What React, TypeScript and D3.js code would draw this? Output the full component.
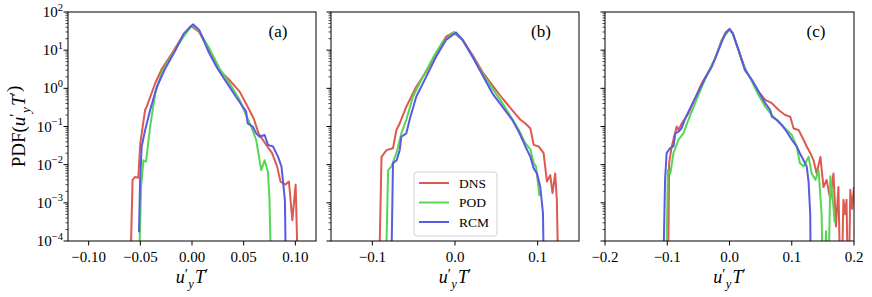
import React from 'react'
import * as d3 from 'd3'

const WIDTH = 872
const HEIGHT = 297
const TOP = 12
const BOTTOM = 241

const seriesNames = ['DNS', 'POD', 'RCM']
const colors = ['#dc5a50', '#55d655', '#5a5ae4']

// panel (a)
const dnsA = [[-0.0608, 1e-6], [-0.0575, 0.004], [-0.055, 0.0048], [-0.052, 0.0045], [-0.050, 0.037], [-0.0454, 0.27], [-0.0438, 0.33], [-0.0356, 1.36], [-0.029, 3.3], [-0.0193, 8.3], [-0.0095, 22.5], [-0.001, 43], [0.0069, 30], [0.0167, 10], [0.0265, 3.0], [0.0363, 1.65], [0.0461, 0.82], [0.0539, 0.33], [0.0598, 0.16], [0.0644, 0.066], [0.0709, 0.036], [0.0775, 0.02], [0.0824, 0.0089], [0.0856, 0.0036], [0.0905, 0.003], [0.0938, 0.0036], [0.0971, 0.00035], [0.1003, 0.003], [0.1036, 1e-6]]
const podA = [[-0.0525, 1e-6], [-0.0493, 0.0026], [-0.047, 0.013], [-0.0445, 0.012], [-0.0405, 0.1], [-0.0356, 0.74], [-0.029, 2.7], [-0.0193, 7.5], [-0.0095, 20], [0.0, 45], [0.0069, 32], [0.0167, 11.3], [0.0265, 3.35], [0.0363, 1.36], [0.0461, 0.5], [0.0523, 0.2], [0.0572, 0.1], [0.0621, 0.045], [0.0654, 0.013], [0.067, 0.0072], [0.0703, 0.013], [0.0735, 0.0065], [0.075, 0.0012], [0.0775, 1e-6]]
const rcmA = [[-0.0513, 0.00017], [-0.0503, 0.0033], [-0.0487, 0.03], [-0.0454, 0.08], [-0.0405, 0.27], [-0.034, 1.1], [-0.0258, 3.35], [-0.016, 10], [-0.0078, 27.5], [0.001, 47.5], [0.0069, 34], [0.0167, 8.3], [0.0245, 3.35], [0.033, 1.5], [0.0425, 0.6], [0.0523, 0.25], [0.0539, 0.12], [0.0588, 0.1], [0.0621, 0.066], [0.0654, 0.054], [0.0703, 0.06], [0.0735, 0.033], [0.0784, 0.03], [0.0833, 0.016], [0.0866, 0.0089], [0.0899, 0.0012], [0.0915, 1e-6]]

// panel (b)
const dnsB = [[-0.0929, 1e-6], [-0.0889, 0.016], [-0.0829, 0.024], [-0.075, 0.027], [-0.0709, 0.081], [-0.0669, 0.12], [-0.0589, 0.33], [-0.0469, 1.1], [-0.0349, 2.7], [-0.0229, 8.3], [-0.0109, 22.5], [-0.002, 29], [0.0092, 18.6], [0.0212, 7.5], [0.0332, 2.7], [0.0452, 1.2], [0.0572, 0.55], [0.0692, 0.27], [0.0792, 0.15], [0.0852, 0.12], [0.0912, 0.089], [0.0952, 0.033], [0.1012, 0.03], [0.1072, 0.02], [0.1112, 0.0036], [0.1152, 0.0053], [0.118, 0.0018], [0.1212, 0.0059], [0.1232, 0.0012], [0.126, 1e-6]]
const podB = [[-0.0849, 1e-6], [-0.0809, 0.0072], [-0.0769, 0.0089], [-0.0709, 0.02], [-0.0649, 0.066], [-0.0589, 0.15], [-0.0509, 0.6], [-0.0389, 2.0], [-0.0269, 6.1], [-0.0149, 16.6], [-0.001, 30], [0.0092, 18.6], [0.0212, 6.7], [0.0332, 2.45], [0.0452, 1.0], [0.0572, 0.41], [0.0692, 0.16], [0.0772, 0.081], [0.0852, 0.036], [0.0912, 0.025], [0.0952, 0.011], [0.098, 0.009], [0.1022, 0.0015]]
const rcmB = [[-0.078, 1e-6], [-0.075, 0.011], [-0.0705, 0.013], [-0.0669, 0.024], [-0.0649, 0.054], [-0.0589, 0.066], [-0.0549, 0.15], [-0.0469, 0.6], [-0.0349, 2.0], [-0.0229, 6.7], [-0.0109, 18.6], [0.0012, 29], [0.0092, 18.6], [0.0212, 6.7], [0.0332, 2.24], [0.0452, 0.74], [0.0572, 0.33], [0.0692, 0.15], [0.0772, 0.073], [0.0852, 0.03], [0.0912, 0.016], [0.0952, 0.008], [0.0992, 0.0059], [0.1032, 0.0026], [0.1064, 0.00054], [0.1084, 1e-6]]

// panel (c)
const dnsC = [[-0.0992, 1e-6], [-0.097, 0.011], [-0.0928, 0.03], [-0.0848, 0.1], [-0.082, 0.081], [-0.0767, 0.12], [-0.066, 0.22], [-0.0552, 0.55], [-0.0445, 1.36], [-0.0338, 2.7], [-0.023, 6.1], [-0.0123, 18.6], [-0.0054, 30], [0.0, 35], [0.0055, 27], [0.0145, 10], [0.025, 3.0], [0.036, 1.65], [0.0467, 0.82], [0.0574, 0.5], [0.068, 0.41], [0.0788, 0.27], [0.0895, 0.2], [0.0976, 0.18], [0.103, 0.089], [0.111, 0.081], [0.119, 0.045], [0.124, 0.03], [0.13, 0.02], [0.135, 0.013], [0.14, 0.0059], [0.146, 0.016], [0.151, 0.0026], [0.156, 0.004], [0.162, 0.0012], [0.167, 0.0059], [0.171, 0.00024], [0.175, 0.0026], [0.179, 1e-6], [0.183, 0.0012], [0.186, 0.0005], [0.188, 0.0012], [0.191, 1e-6], [0.194, 0.0022], [0.197, 0.00069], [0.2, 0.0026]]
const podC = [[-0.1025, 1e-6], [-0.099, 0.0072], [-0.095, 0.0059], [-0.09, 0.02], [-0.082, 0.045], [-0.074, 0.066], [-0.066, 0.15], [-0.0552, 0.41], [-0.0445, 1.1], [-0.0338, 2.7], [-0.023, 6.1], [-0.0123, 18.6], [0.0, 35], [0.0055, 27], [0.0145, 10], [0.025, 3.35], [0.036, 1.5], [0.0467, 0.67], [0.0574, 0.33], [0.068, 0.2], [0.0788, 0.13], [0.0895, 0.089], [0.1, 0.06], [0.108, 0.03], [0.113, 0.011], [0.119, 0.009], [0.127, 0.016], [0.132, 0.0059], [0.138, 0.004], [0.143, 0.0072], [0.148, 0.0005], [0.151, 1e-6], [0.155, 0.00018], [0.158, 1e-6], [0.162, 0.005], [0.166, 0.0012], [0.169, 0.0003]]
const rcmC = [[-0.1078, 1e-6], [-0.1035, 0.004], [-0.101, 0.02], [-0.0955, 0.027], [-0.09, 0.03], [-0.087, 0.066], [-0.082, 0.073], [-0.077, 0.089], [-0.0713, 0.16], [-0.0606, 0.37], [-0.0499, 0.82], [-0.0392, 1.85], [-0.0284, 3.7], [-0.0177, 10], [-0.007, 27], [0.0, 36], [0.0055, 27], [0.0145, 10], [0.025, 3.0], [0.036, 1.65], [0.0467, 0.82], [0.0574, 0.41], [0.0654, 0.27], [0.068, 0.18], [0.076, 0.15], [0.084, 0.11], [0.092, 0.073], [0.1, 0.045], [0.108, 0.03], [0.113, 0.02], [0.119, 0.013], [0.124, 0.009], [0.127, 0.0036], [0.1297, 0.0005], [0.131, 1e-6]]

const xTicksA = [-0.1, -0.05, 0, 0.05, 0.1]
const xTicksB = [-0.1, 0, 0.1]
const xTicksC = [-0.2, -0.1, 0, 0.1, 0.2]
const yExponents = [-4, -3, -2, -1, 0, 1, 2]

const panels = [
  { id: 'a', left: 68, right: 316, domain: [-0.12, 0.12], ticks: xTicksA, fmt: '.2f', series: [dnsA, podA, rcmA], yLabels: true },
  { id: 'b', left: 331, right: 579, domain: [-0.15, 0.15], ticks: xTicksB, fmt: '.1f', series: [dnsB, podB, rcmB], yLabels: false },
  { id: 'c', left: 605, right: 854, domain: [-0.2, 0.2], ticks: xTicksC, fmt: '.1f', series: [dnsC, podC, rcmC], yLabels: false },
]

const FONT = '"Liberation Serif", "Times New Roman", serif'

const yScale = d3.scaleLog().domain([1e-4, 1e2]).range([BOTTOM, TOP])

const minorTicks: number[] = []
for (let e = -4; e < 2; e++) {
  for (let m = 2; m <= 9; m++) minorTicks.push(m * Math.pow(10, e))
}

// u'_y T'
const MathUT = ({ size }: { size: number }) => (
  <>
    <tspan fontStyle="italic">u</tspan>
    <tspan fontSize={size * 0.8} dy={-size * 0.25}>′</tspan>
    <tspan fontStyle="italic" fontSize={size * 0.7} dx={size * 0.02} dy={size * 0.5}>y</tspan>
    <tspan fontStyle="italic" dx={size * 0.06} dy={-size * 0.25}>T</tspan>
    <tspan fontSize={size * 0.8} dy={-size * 0.25}>′</tspan>
    <tspan dy={size * 0.25}></tspan>
  </>
)

const Panel = ({ p }: { p: any }) => {
  const x = d3.scaleLinear().domain(p.domain).range([p.left, p.right])
  const line = d3.line<number[]>()
    .x(d => x(d[0]))
    .y(d => yScale(Math.max(d[1], 1e-7)))
  const fmt = d3.format(p.fmt)
  const cx = (p.left + p.right) / 2
  return (
    <g>
      <clipPath id={`clip-${p.id}`}>
        <rect x={p.left} y={TOP} width={p.right - p.left} height={BOTTOM - TOP} />
      </clipPath>
      <g clipPath={`url(#clip-${p.id})`}>
        {p.series.map((s: number[][], i: number) => (
          <path key={i} d={line(s) || ''} fill="none" stroke={colors[i]} strokeWidth={2} strokeLinejoin="round" />
        ))}
      </g>
      <rect x={p.left} y={TOP} width={p.right - p.left} height={BOTTOM - TOP} fill="none" stroke="#000" strokeWidth={1} />
      {/* y ticks */}
      {yExponents.map(e => {
        const y = yScale(Math.pow(10, e))
        return (
          <g key={e}>
            <line x1={p.left} x2={p.left - 4.5} y1={y} y2={y} stroke="#000" strokeWidth={1} />
            {p.yLabels && (
              <text x={p.left - 5} y={y + 5} fontSize={15} textAnchor="end" fontFamily={FONT}>
                10<tspan fontSize={10.5} dy={-6.5}>{e < 0 ? '−' + Math.abs(e) : e}</tspan>
              </text>
            )}
          </g>
        )
      })}
      {minorTicks.map((v, i) => {
        const y = yScale(v)
        return <line key={i} x1={p.left} x2={p.left - 2.5} y1={y} y2={y} stroke="#000" strokeWidth={0.7} />
      })}
      {/* x ticks */}
      {p.ticks.map((t: number) => (
        <g key={t}>
          <line x1={x(t)} x2={x(t)} y1={BOTTOM} y2={BOTTOM + 4.5} stroke="#000" strokeWidth={1} />
          <text x={x(t)} y={BOTTOM + 21} fontSize={15} textAnchor="middle" fontFamily={FONT}>{fmt(t)}</text>
        </g>
      ))}
      <text x={cx} y={BOTTOM + 42} fontSize={18} textAnchor="middle" fontFamily={FONT}>
        <MathUT size={18} />
      </text>
      <text x={p.right - 38} y={TOP + 25} fontSize={17} textAnchor="middle" fontFamily={FONT}>({p.id})</text>
    </g>
  )
}

export default function App() {
  return (
    <svg width={WIDTH} height={HEIGHT} style={{ display: 'block', position: 'absolute', left: 0, top: 0 }}>
      <rect width={WIDTH} height={HEIGHT} fill="#fff" />
      {panels.map(p => <Panel key={p.id} p={p} />)}
      <text transform={`translate(25,${(TOP + BOTTOM) / 2}) rotate(-90)`} fontSize={19} textAnchor="middle" fontFamily={FONT}>
        PDF(<MathUT size={19} />)
      </text>
      {/* legend */}
      <g>
        <rect x={414} y={172} width={83} height={64} rx={3} fill="#fff" fillOpacity={0.8} stroke="#d0d0d0" strokeWidth={1} />
        {seriesNames.map((n, i) => {
          const y = 183 + i * 19.5
          return (
            <g key={n}>
              <line x1={419} x2={449} y1={y} y2={y} stroke={colors[i]} strokeWidth={2} />
              <text x={459} y={y + 4.5} fontSize={13.5} fontFamily={FONT}>{n}</text>
            </g>
          )
        })}
      </g>
    </svg>
  )
}
